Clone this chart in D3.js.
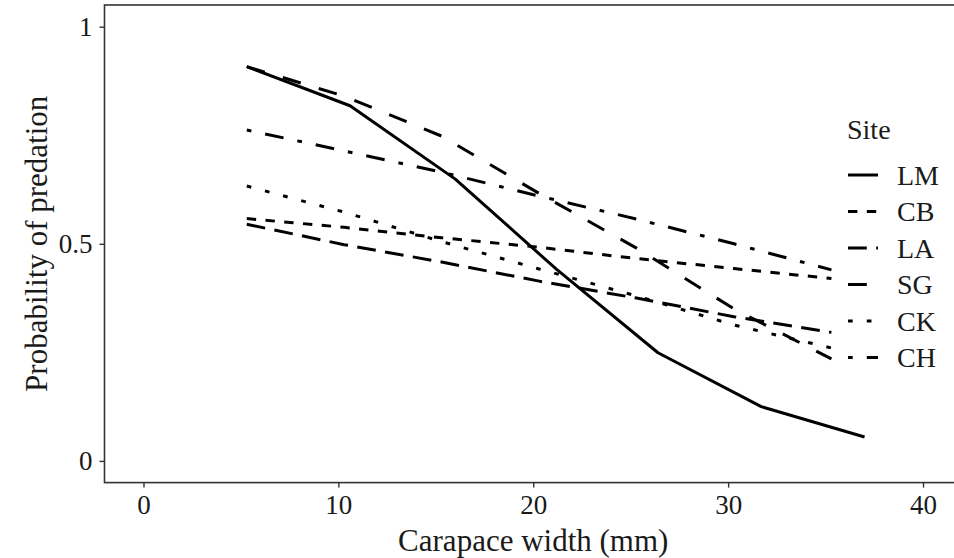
<html>
<head>
<script src="https://d3js.org/d3.v7.min.js"></script>
<style>
  body { margin: 0; background: #fff; }
  text { font-family: "Liberation Serif", "Times New Roman", serif; fill: #1a1a1a; }
</style>
</head>
<body>
<script>
// ---- data ----
var sites = ["LM", "CB", "LA", "SG", "CK", "CH"];
var xLM = [5.3, 10.6, 16.0, 21.2, 26.4, 31.7, 37.0];
var xOther = [5.3, 10.3, 15.3, 20.3, 25.3, 30.3, 35.3];
var pLM = [0.908, 0.818, 0.649, 0.441, 0.249, 0.125, 0.055];
var pCB = [0.558, 0.538, 0.514, 0.492, 0.466, 0.443, 0.420];
var pLA = [0.545, 0.498, 0.458, 0.414, 0.375, 0.332, 0.296];
var pSG = [0.908, 0.840, 0.748, 0.616, 0.490, 0.350, 0.235];
var pCK = [0.633, 0.573, 0.505, 0.442, 0.380, 0.313, 0.260];
var pCH = [0.762, 0.714, 0.665, 0.610, 0.557, 0.500, 0.440];
var xTicks = [0, 10, 20, 30, 40];
var yTicks = [0, 0.5, 1];
var yTickLabels = ["0", "0.5", "1"];

var series = [
  {site: "LM", xs: xLM, ys: pLM},
  {site: "CB", xs: xOther, ys: pCB},
  {site: "LA", xs: xOther, ys: pLA},
  {site: "SG", xs: xOther, ys: pSG},
  {site: "CK", xs: xOther, ys: pCK},
  {site: "CH", xs: xOther, ys: pCH}
];

// ggplot-ish linetypes, unit ~4.7px
var u = 4.7;
var dashes = {
  LM: null,
  CB: [2 * u, 2 * u],
  LA: [4 * u, 2 * u],
  SG: [4 * u, 4 * u],
  CK: [1 * u, 3 * u],
  CH: [1 * u, 3 * u, 4 * u, 3 * u]
};

var width = 954, height = 558;
var svg = d3.select("body").append("svg")
  .attr("width", width)
  .attr("height", height);

var x = d3.scaleLinear().domain([-2, 42]).range([104.5, 962]);
var y = d3.scaleLinear().domain([-0.05, 1.05]).range([482.6, 5]);

// panel frame
svg.append("rect")
  .attr("x", x(-2)).attr("y", y(1.05))
  .attr("width", x(42) - x(-2)).attr("height", y(-0.05) - y(1.05))
  .attr("fill", "none").attr("stroke", "#333").attr("stroke-width", 1.6);

// axes
var xAxis = svg.append("g")
  .attr("transform", "translate(0," + y(-0.05) + ")")
  .call(d3.axisBottom(x).tickValues(xTicks).tickSize(5).tickPadding(5));
var yAxis = svg.append("g")
  .attr("transform", "translate(" + x(-2) + ",0)")
  .call(d3.axisLeft(y).tickValues(yTicks).tickSize(5).tickPadding(7)
    .tickFormat(function(d, i) { return yTickLabels[i]; }));
[xAxis, yAxis].forEach(function(g) {
  g.select(".domain").remove();
  g.selectAll(".tick line").attr("stroke", "#333").attr("stroke-width", 1.4);
  g.selectAll(".tick text").style("font-size", "27px").attr("fill", "#1a1a1a");
});
xAxis.selectAll(".tick text").attr("dy", "0.8em");

// lines
var line = d3.line()
  .x(function(d) { return x(d[0]); })
  .y(function(d) { return y(d[1]); });

series.forEach(function(s) {
  var pts = s.xs.map(function(v, i) { return [v, s.ys[i]]; });
  svg.append("path")
    .datum(pts)
    .attr("d", line)
    .attr("fill", "none")
    .attr("stroke", "#000")
    .attr("stroke-width", 3)
    .attr("stroke-linejoin", "round")
    .attr("stroke-dasharray", dashes[s.site] ? dashes[s.site].join(",") : null);
});

// axis titles
svg.append("text")
  .attr("x", (x(-2) + x(42)) / 2).attr("y", 551)
  .attr("text-anchor", "middle")
  .style("font-size", "31px")
  .text("Carapace width (mm)");
svg.append("text")
  .attr("transform", "translate(47," + ((y(-0.05) + y(1.05)) / 2) + ") rotate(-90)")
  .attr("text-anchor", "middle")
  .style("font-size", "31px")
  .text("Probability of predation");

// legend
var legend = svg.append("g");
legend.append("text")
  .attr("x", 847).attr("y", 139)
  .style("font-size", "28px")
  .text("Site");
sites.forEach(function(s, i) {
  var ly = 175 + i * 36.5;
  legend.append("line")
    .attr("x1", 848).attr("x2", 878)
    .attr("y1", ly).attr("y2", ly)
    .attr("stroke", "#000").attr("stroke-width", 3)
    .attr("stroke-dasharray", dashes[s] ? dashes[s].join(",") : null);
  legend.append("text")
    .attr("x", 897).attr("y", ly)
    .attr("dy", "0.35em")
    .style("font-size", "28px")
    .text(s);
});
</script>
</body>
</html>
